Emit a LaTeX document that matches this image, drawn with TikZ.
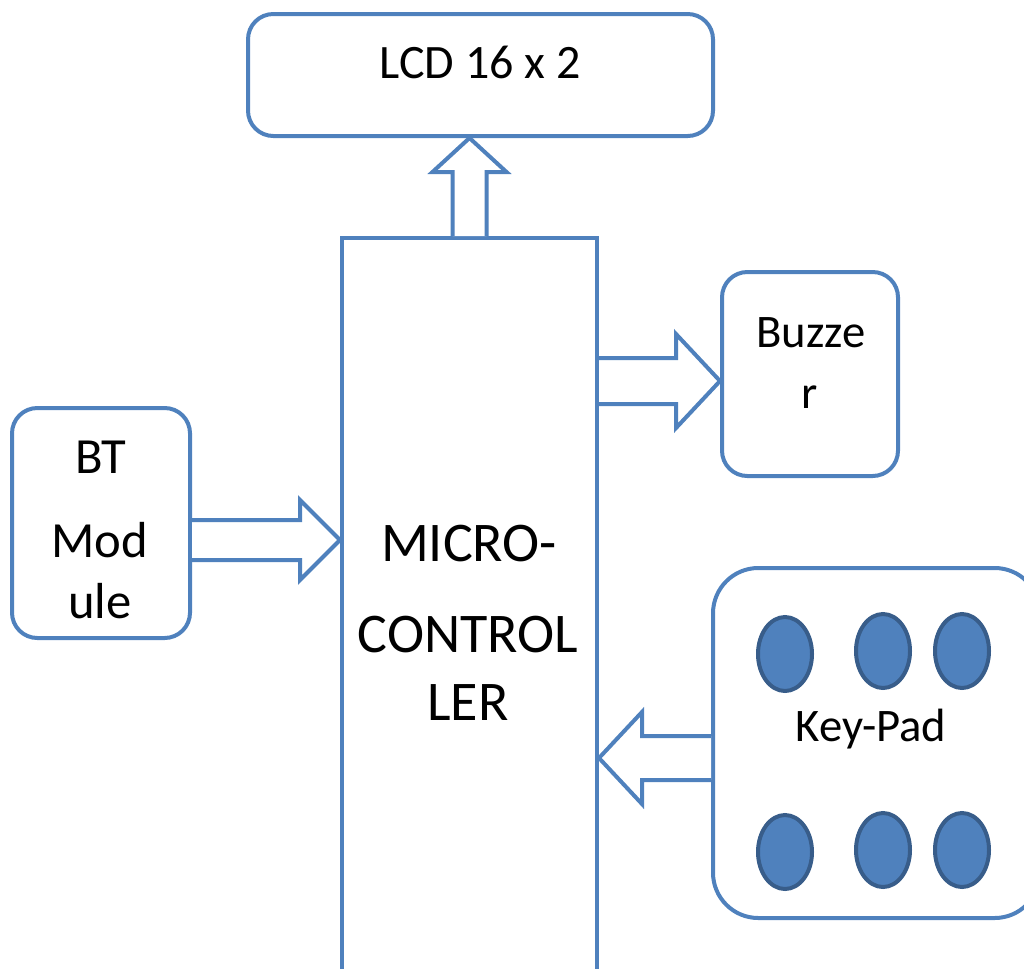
\documentclass[tikz,border=0pt]{standalone}
\usepackage{fontspec}
\setmainfont{Carlito}
\usetikzlibrary{calc,shapes.geometric}
\definecolor{bl}{HTML}{4F81BD}
\definecolor{dbl}{HTML}{385D8A}
\begin{document}
\begin{tikzpicture}[x=0.75pt,y=-0.75pt,
  box/.style={draw=bl,line width=3pt,inner sep=0pt,rounded corners=19pt},
  sq/.style={draw=bl,line width=3pt,inner sep=0pt},
  arr/.style={draw=bl,line width=3pt,line join=miter,fill=white},
  txt/.style={anchor=base,inner sep=0pt},
  fa/.style={font=\fontsize{36pt}{40pt}\selectfont},
  fb/.style={font=\fontsize{42pt}{46pt}\selectfont},
  fc/.style={font=\fontsize{38pt}{42pt}\selectfont},
  fd/.style={font=\fontsize{35pt}{39pt}\selectfont},
  key/.style={ellipse,draw=dbl,fill=bl,line width=3pt,minimum width=54*0.75pt,minimum height=74*0.75pt,inner sep=0pt}]
\useasboundingbox (0,0) rectangle (1024,968);
\clip (0,0) rectangle (1024,968);
% boxes
\node[box,minimum width=465*0.75pt,minimum height=122*0.75pt] (lcd) at (480.5,75) {};
\node[sq,minimum width=255*0.75pt,minimum height=772*0.75pt] (mc) at (469.5,624) {};
\node[box,minimum width=176*0.75pt,minimum height=204*0.75pt] (buz) at (810,374) {};
\node[box,minimum width=178*0.75pt,minimum height=230*0.75pt] (bt) at (101,523) {};
\node[box,rounded corners=34pt,minimum width=327*0.75pt,minimum height=350*0.75pt] (kp) at (876.5,743) {};
% texts
\node[txt,fa] (tlcd) at (480,78) {LCD 16 x 2};
\node[txt,fb] (tmc1) at (469,561) {MICRO-};
\node[txt,fb] (tmc2) at (468,652) {CONTROL};
\node[txt,fb] (tmc3) at (468,720) {LER};
\node[txt,fd] (tbz1) at (811,347) {Buzze};
\node[txt,fd] (tbz2) at (810,408) {r};
\node[txt,fc] (tbt1) at (101,473) {BT};
\node[txt,fc] (tbt2) at (100,557) {Mod};
\node[txt,fc] (tbt3) at (100,618) {ule};
\node[txt,fd] (tkp) at (871,741) {Key-Pad};
% keys
\node[key] (k1) at (785,654) {};
\node[key] (k2) at (883,651) {};
\node[key] (k3) at (962,651) {};
\node[key] (k4) at (785,852) {};
\node[key] (k5) at (883,850) {};
\node[key] (k6) at (962,850) {};
% up arrow mc -> lcd
\coordinate (t1) at (mc.north |- lcd.south);
\draw[arr] ($(mc.north)+(-17,0)$) -- ($(t1)+(-17,34)$) -- ($(t1)+(-37,34)$) -- (t1)
  -- ($(t1)+(37,34)$) -- ($(t1)+(17,34)$) -- ($(mc.north)+(17,0)$);
% right arrow mc -> buzzer
\coordinate (t2) at ($(buz.west)+(0,7)$);
\coordinate (s2) at (mc.east |- t2);
\draw[arr] ($(s2)+(0,-23)$) -- ($(t2)+(-44,-23)$) -- ($(t2)+(-44,-47)$) -- (t2)
  -- ($(t2)+(-44,47)$) -- ($(t2)+(-44,23)$) -- ($(s2)+(0,23)$);
% right arrow bt -> mc
\coordinate (t3) at ($(mc.west |- bt.east)+(0,17)$);
\coordinate (s3) at (bt.east |- t3);
\draw[arr] ($(s3)+(0,-20)$) -- ($(t3)+(-40,-20)$) -- ($(t3)+(-40,-40)$) -- (t3)
  -- ($(t3)+(-40,40)$) -- ($(t3)+(-40,20)$) -- ($(s3)+(0,20)$);
% left arrow kp -> mc
\coordinate (t4) at ($(mc.east |- kp.west)+(0,15)$);
\coordinate (s4) at (kp.west |- t4);
\draw[arr] ($(s4)+(0,-22)$) -- ($(t4)+(43,-22)$) -- ($(t4)+(43,-46)$) -- (t4)
  -- ($(t4)+(43,46)$) -- ($(t4)+(43,22)$) -- ($(s4)+(0,22)$);
\end{tikzpicture}
\end{document}
